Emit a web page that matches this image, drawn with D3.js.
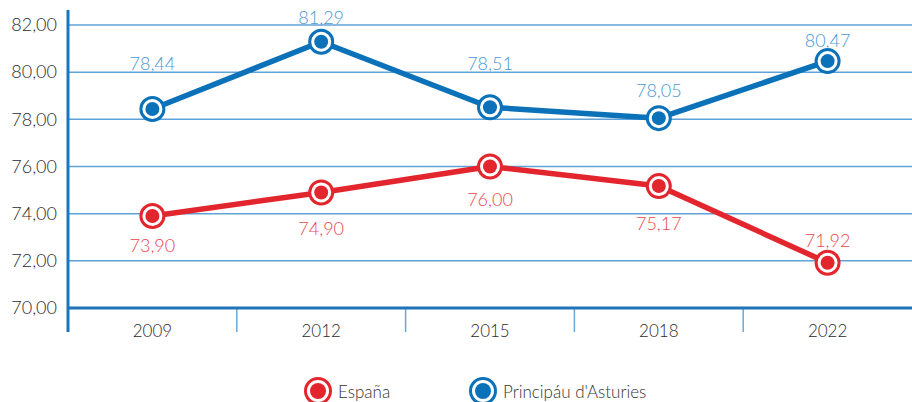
<!DOCTYPE html>
<html>
<head>
<meta charset="utf-8">
<script src="https://cdn.jsdelivr.net/npm/d3@7"></script>
<style>
  html, body { margin: 0; padding: 0; background: #fff; }
  svg { display: block; font-family: Lato, "Open Sans", sans-serif; font-weight: 300; }
</style>
</head>
<body>
<svg id="chart" width="912" height="402"></svg>
<script>
// Survey years and values for each region
const years = ["2009", "2012", "2015", "2018", "2022"];
const espana = [73.90, 74.90, 76.00, 75.17, 71.92];
const asturies = [78.44, 81.29, 78.51, 78.05, 80.47];
const yTicks = [70, 72, 74, 76, 78, 80, 82];
const seriesNames = ["España", "Principáu d'Asturies"];

// Vertical nudge for each value label, relative to its marker
const espanaLabelDy = [29, 36, 32, 37, -23];
const asturiesLabelDy = [-46, -25, -44, -28, -21];

const BLUE = "#0b72b9";
const RED = "#e3262d";
const FONT = "Lato, 'Open Sans', sans-serif";
const fmt = v => v.toFixed(2).replace(".", ",");

const svg = d3.select("#chart");
const plotLeft = 68, plotRight = 912, plotTop = 25, plotBottom = 308;

const x = d3.scaleBand().domain(years).range([plotLeft, plotRight]);
const y = d3.scaleLinear().domain([70, 82]).range([plotBottom, plotTop]);

// Horizontal gridlines
svg.append("g")
  .selectAll("line")
  .data(yTicks.filter(t => t > 70))
  .join("line")
  .attr("x1", plotLeft).attr("x2", plotRight)
  .attr("y1", d => y(d)).attr("y2", d => y(d))
  .attr("stroke", "#5fa2d8").attr("stroke-width", 1.5);

// Y axis labels
const yAxis = svg.append("g").attr("transform", `translate(${plotLeft},0)`)
  .call(d3.axisLeft(y).tickValues(yTicks).tickSize(0).tickPadding(11).tickFormat(fmt));
yAxis.select(".domain").remove();
yAxis.selectAll("text")
  .attr("fill", "#2b2b2b").attr("font-size", 18)
  .attr("font-family", FONT).attr("font-weight", 300);

// X axis: baseline, band separators, year labels
const xAxis = svg.append("g").attr("transform", `translate(0,${plotBottom})`)
  .call(d3.axisBottom(x).tickSize(0).tickPadding(17));
xAxis.select(".domain").remove();
xAxis.selectAll("text")
  .attr("fill", "#2b2b2b").attr("font-size", 17)
  .attr("font-family", FONT).attr("font-weight", 300);

svg.append("g")
  .selectAll("line")
  .data(years.slice(1))
  .join("line")
  .attr("x1", d => x(d)).attr("x2", d => x(d))
  .attr("y1", plotBottom).attr("y2", plotBottom + 24)
  .attr("stroke", "#6aa8da").attr("stroke-width", 1.5);

svg.append("line")
  .attr("x1", plotLeft).attr("x2", plotRight)
  .attr("y1", plotBottom).attr("y2", plotBottom)
  .attr("stroke", "#1f74b8").attr("stroke-width", 3);

svg.append("line")
  .attr("x1", plotLeft).attr("x2", plotLeft)
  .attr("y1", 10).attr("y2", 332)
  .attr("stroke", "#1a77bd").attr("stroke-width", 3);

// Lines, markers and value labels
function drawSeries(values, color, labelColor, dys) {
  const pts = values.map((v, i) => ({ year: years[i], v, dy: dys[i] }));
  const cx = d => x(d.year) + x.bandwidth() / 2;
  const g = svg.append("g");
  g.append("path")
    .datum(pts)
    .attr("fill", "none").attr("stroke", color).attr("stroke-width", 5.5)
    .attr("stroke-linejoin", "round")
    .attr("d", d3.line().x(cx).y(d => y(d.v)));
  g.selectAll("circle.outer").data(pts).join("circle")
    .attr("class", "outer")
    .attr("cx", cx).attr("cy", d => y(d.v)).attr("r", 11.5)
    .attr("fill", "#fff").attr("stroke", color).attr("stroke-width", 3);
  g.selectAll("circle.inner").data(pts).join("circle")
    .attr("class", "inner")
    .attr("cx", cx).attr("cy", d => y(d.v)).attr("r", 7)
    .attr("fill", color);
  g.selectAll("text").data(pts).join("text")
    .attr("x", cx).attr("y", d => y(d.v) + d.dy)
    .attr("text-anchor", "middle").attr("dominant-baseline", "central")
    .attr("font-size", 18).attr("font-weight", 300).attr("fill", labelColor)
    .text(d => fmt(d.v));
}
drawSeries(asturies, BLUE, "#4b98d2", asturiesLabelDy);
drawSeries(espana, RED, "#e8474d", espanaLabelDy);

// Legend
const legendItems = [
  { name: seriesNames[0], color: RED, x: 318 },
  { name: seriesNames[1], color: BLUE, x: 483 }
];
const lg = svg.append("g").selectAll("g").data(legendItems).join("g")
  .attr("transform", d => `translate(${d.x},391)`);
lg.append("circle").attr("r", 12.5).attr("fill", "#fff")
  .attr("stroke", d => d.color).attr("stroke-width", 3);
lg.append("circle").attr("r", 8).attr("fill", d => d.color);
lg.append("text").attr("x", 20).attr("dominant-baseline", "central")
  .attr("font-size", 17).attr("font-weight", 300).attr("fill", "#333")
  .text(d => d.name);
</script>
</body>
</html>
